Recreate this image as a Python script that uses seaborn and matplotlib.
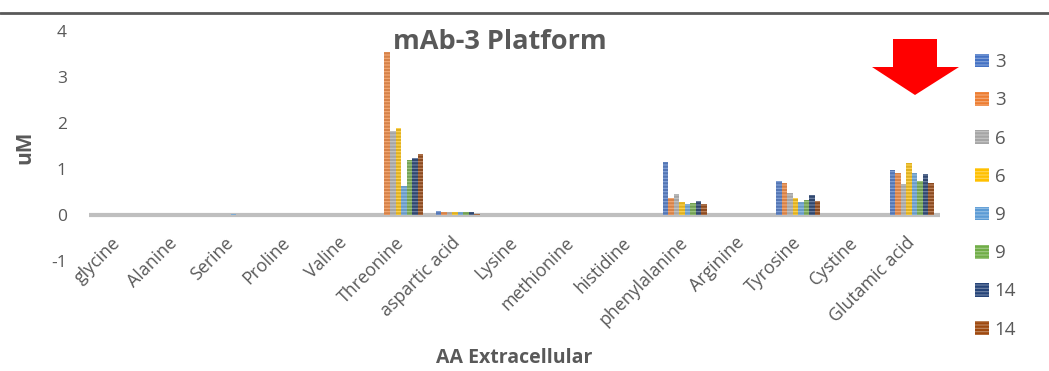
import numpy as np
import pandas as pd
import matplotlib
matplotlib.use("Agg")
import matplotlib.pyplot as plt
from matplotlib.lines import Line2D
from matplotlib.patches import Polygon, Patch
import matplotlib.colors as mcolors
import seaborn as sns

categories = ["glycine", "Alanine", "Serine", "Proline", "Valine", "Threonine",
              "aspartic acid", "Lysine", "methionine", "histidine", "phenylalanine",
              "Arginine", "Tyrosine", "Cystine", "Glutamic acid"]

series_ids = ["s1", "s2", "s3", "s4", "s5", "s6", "s7", "s8"]
legend_labels = ["3", "3", "6", "6", "9", "9", "14", "14"]

# one list per series, values in category order
s1 = [0.00, 0.00, 0.00, 0.00, 0.01, 0.00, 0.08, 0.00, 0.00, 0.00, 1.16, 0.00, 0.74, 0.00, 0.98]
s2 = [0.00, 0.00, 0.00, 0.00, 0.00, 3.54, 0.06, 0.00, 0.00, 0.00, 0.38, 0.00, 0.70, 0.00, 0.92]
s3 = [0.00, 0.00, 0.00, 0.00, 0.00, 1.83, 0.06, 0.00, 0.00, 0.00, 0.45, 0.00, 0.48, 0.00, 0.67]
s4 = [0.00, 0.00, 0.00, 0.00, 0.00, 1.89, 0.06, 0.00, 0.00, 0.00, 0.29, 0.00, 0.36, 0.00, 1.14]
s5 = [0.00, 0.00, 0.02, 0.00, 0.00, 0.63, 0.06, 0.00, 0.00, 0.00, 0.25, 0.00, 0.29, 0.00, 0.91]
s6 = [0.00, 0.00, 0.00, 0.00, 0.00, 1.20, 0.06, 0.00, 0.00, 0.00, 0.27, 0.00, 0.33, 0.00, 0.75]
s7 = [0.00, 0.00, 0.00, 0.00, 0.00, 1.25, 0.07, 0.00, 0.00, 0.00, 0.31, 0.00, 0.43, 0.00, 0.89]
s8 = [0.00, 0.00, 0.00, 0.00, 0.00, 1.33, 0.03, 0.00, 0.00, 0.00, 0.24, 0.00, 0.31, 0.00, 0.70]

colors = ["#4472C4", "#ED7D31", "#A5A5A5", "#FFC000",
          "#5B9BD5", "#70AD47", "#264478", "#9E480E"]

series_values = [s1, s2, s3, s4, s5, s6, s7, s8]
rows = []
for sid, vals in zip(series_ids, series_values):
    for cat, v in zip(categories, vals):
        rows.append({"AA": cat, "series": sid, "uM": v})
df = pd.DataFrame(rows)

sns.set_theme(style="white")
plt.rcParams["font.family"] = ["Open Sans", "DejaVu Sans"]
plt.rcParams["hatch.linewidth"] = 0.8

text_color = "#595959"
W, H = 1049, 371

fig = plt.figure(figsize=(W / 100, H / 100), dpi=100)
ax = fig.add_axes([89 / W, 1 - 261 / H, (940 - 89) / W, 230 / H])

sns.barplot(data=df, x="AA", y="uM", hue="series", hue_order=series_ids,
            order=categories, palette=colors, width=0.78, gap=0,
            errorbar=None, legend=False, ax=ax)


def lighter(c, amt=0.35):
    r, g, b = mcolors.to_rgb(c)
    return (r + (1 - r) * amt, g + (1 - g) * amt, b + (1 - b) * amt)


for cont, c in zip(ax.containers, colors):
    for bar in cont:
        bar.set_hatch("-----")
        bar.set_edgecolor(lighter(c))
        bar.set_linewidth(0)

ax.set_ylim(-1, 4)
ax.set_xlim(-0.5, len(categories) - 0.5)
ax.set_yticks([-1, 0, 1, 2, 3, 4])
ax.set_yticklabels(["-1", "0", "1", "2", "3", "4"])
ax.tick_params(axis="y", length=0, labelsize=12.5, labelcolor=text_color, pad=16)
# category labels sit just under the zero line
ax.tick_params(axis="x", length=0, labelsize=12.8, labelcolor=text_color, pad=-15)
plt.setp(ax.get_xticklabels(), rotation=45, ha="right", va="center",
         rotation_mode="anchor")

for side in ["top", "right", "left", "bottom"]:
    ax.spines[side].set_visible(False)
ax.axhline(0, color="#BFBFBF", lw=3, zorder=0.5)
ax.grid(False)
ax.set_xlabel("")
ax.set_ylabel("")

fig.text(514 / W, 1 - 358 / H, "AA Extracellular", fontsize=14, fontweight="bold",
         color=text_color, ha="center", va="center")
fig.text(25 / W, 1 - 147 / H, "uM", fontsize=15, fontweight="bold",
         color=text_color, ha="center", va="center", rotation=90)
fig.text(500 / W, 1 - 42 / H, "mAb-3 Platform", fontsize=19.5, fontweight="bold",
         color=text_color, ha="center", va="center")

# frame line along the top
fig.add_artist(Line2D([0, 1], [1 - 13 / H, 1 - 13 / H], color="#595959", lw=2))

# red arrow pointing down
arrow_px = [(893, 39), (937, 39), (937, 67), (959, 67), (915, 95), (872, 67), (893, 67)]
arrow = Polygon([(x / W, 1 - y / H) for x, y in arrow_px], closed=True,
                facecolor="#FF0000", edgecolor="none", transform=fig.transFigure)
fig.add_artist(arrow)

handles = [Patch(facecolor=c, edgecolor=lighter(c), hatch="-----", linewidth=0) for c in colors]
fig.legend(handles, legend_labels, loc="upper left",
           bbox_to_anchor=(975 / W, 1 - 53 / H), frameon=False,
           fontsize=13.5, labelcolor=text_color, handlelength=0.75, handleheight=0.75,
           handletextpad=0.3, labelspacing=1.08, borderaxespad=0, borderpad=0)

fig.savefig("out.png", dpi=100)
